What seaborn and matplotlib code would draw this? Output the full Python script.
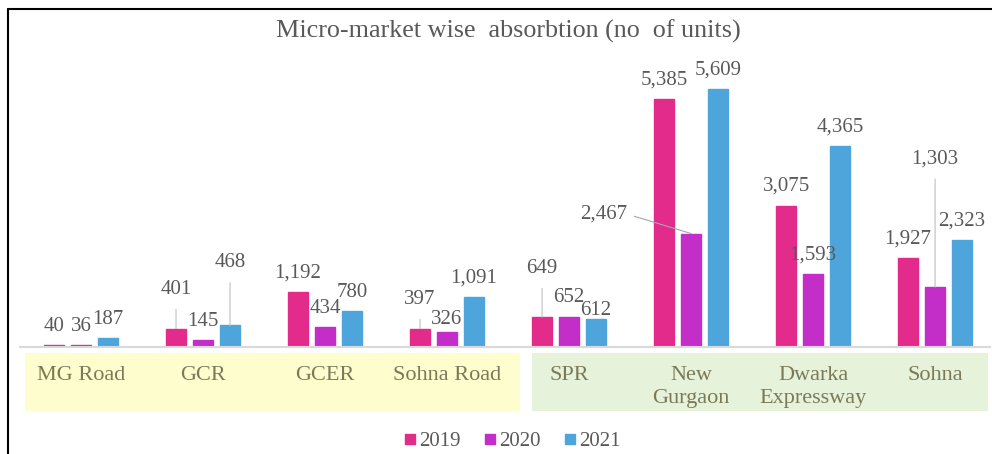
import matplotlib
matplotlib.use("Agg")
import matplotlib.pyplot as plt
import matplotlib.transforms as mtransforms
from matplotlib.patches import Rectangle
from matplotlib.lines import Line2D
import pandas as pd
import seaborn as sns

# data
markets = ["MG Road", "GCR", "GCER", "Sohna Road", "SPR",
           "New\nGurgaon", "Dwarka\nExpressway", "Sohna"]
years = ["2019", "2020", "2021"]
units_2019 = [40, 401, 1192, 397, 649, 5385, 3075, 1927]
units_2020 = [36, 145, 434, 326, 652, 2467, 1593, 1303]
units_2021 = [187, 468, 780, 1091, 612, 5609, 4365, 2323]

colors = {"2019": "#E22B8A", "2020": "#C42EC8", "2021": "#4EA5DC"}
LABEL_GREY = "#595959"
CAT_COLOR = "#7A7A58"
SERIF = ["Liberation Serif", "DejaVu Serif"]

# label offsets in points (dx, dy, leader line) where the label is not just above its bar
label_offsets = {
    ("2019", 1): (0, 28, True),
    ("2021", 1): (0, 45, True),
    ("2019", 3): (0, 21, True),
    ("2020", 3): (0, 9, False),
    ("2019", 4): (0, 35, True),
    ("2021", 4): (0, 6, False),
    ("2020", 5): (-63, 14, True),
    ("2020", 7): (0, 92, True),
}

df = pd.DataFrame({
    "market": markets * 3,
    "year": [y for y in years for _ in markets],
    "units": units_2019 + units_2020 + units_2021,
})

sns.set_style("white")
plt.rcParams["font.family"] = SERIF

fig = plt.figure(figsize=(9.92, 4.54), dpi=100)
ax = fig.add_axes([20 / 992, 107 / 454, 970 / 992, 287 / 454])

sns.barplot(data=df, x="market", y="units", hue="year", order=markets,
            hue_order=years, palette=colors, width=0.664, gap=0.23,
            legend=False, ax=ax, saturation=1)
# thin edge in the bar colour so the tiny MG Road bars still show
for p in ax.patches:
    p.set_edgecolor(p.get_facecolor())
    p.set_linewidth(1.0)

ax.set_xlim(-0.5, 7.45)
ax.set_ylim(0, 6240)
ax.set_yticks([])
ax.set_xlabel("")
ax.set_ylabel("")
for s in ["top", "right", "left"]:
    ax.spines[s].set_visible(False)
ax.spines["bottom"].set_color("#D9D9D9")
ax.spines["bottom"].set_linewidth(1.5)
ax.tick_params(axis="x", length=0, pad=13.5, labelsize=16, labelcolor=CAT_COLOR)
ax.set_xticks(range(len(markets)))
ax.set_xticklabels(markets, va="top", linespacing=1.3)

# category bands
trans = mtransforms.blended_transform_factory(ax.transData, ax.transAxes)
ax.add_patch(Rectangle((-0.46, -0.223), 4.06, 0.202, transform=trans,
                       facecolor="#FEFDCD", edgecolor="none", clip_on=False, zorder=0))
ax.add_patch(Rectangle((3.70, -0.223), 3.73, 0.202, transform=trans,
                       facecolor="#E6F2DA", edgecolor="none", clip_on=False, zorder=0))

# data labels
for year, cont in zip(years, ax.containers):
    for i, bar in enumerate(cont):
        v = bar.get_height()
        x = bar.get_x() + bar.get_width() / 2
        dx, dy, leader = label_offsets.get((year, i), (0, 13.7, False))
        if leader:
            if dx < 0:
                ax.annotate(f"{v:,.0f}", xy=(x, v), xytext=(dx, dy),
                            textcoords="offset points", ha="center", va="center",
                            fontsize=15, color=LABEL_GREY,
                            arrowprops=dict(arrowstyle="-", color="#A6A6A6", lw=0.8,
                                            relpos=(1, 0.5), shrinkA=3, shrinkB=0))
            else:
                ax.annotate(f"{v:,.0f}", xy=(x, v), xytext=(dx, dy),
                            textcoords="offset points", ha="center", va="center",
                            fontsize=15, color=LABEL_GREY,
                            arrowprops=dict(arrowstyle="-", color="#BFBFBF", lw=0.8,
                                            relpos=(0.5, 0), shrinkA=5, shrinkB=0))
        else:
            ax.annotate(f"{v:,.0f}", xy=(x, v), xytext=(dx, dy),
                        textcoords="offset points", ha="center", va="center",
                        fontsize=15, color=LABEL_GREY)

fig.text(508 / 992, 1 - 31 / 454, "Micro-market wise  absorbtion (no  of units)",
         ha="center", va="center", fontsize=18.8, color=LABEL_GREY)

handles = [Line2D([], [], marker="s", linestyle="none", markersize=7,
                  markerfacecolor=colors[y], markeredgecolor=colors[y]) for y in years]
fig.legend(handles, years, loc="center", bbox_to_anchor=(511 / 992, 1 - 441 / 454),
           ncol=3, frameon=False, fontsize=15, labelcolor=LABEL_GREY,
           handletextpad=0.05, columnspacing=1.0, handlelength=0.8)

# outer frame
fig.add_artist(Line2D([8 / 992, 1.0], [1 - 9 / 454, 1 - 9 / 454],
                      transform=fig.transFigure, color="black", lw=1.5))
fig.add_artist(Line2D([8 / 992, 8 / 992], [0, 1 - 9 / 454],
                      transform=fig.transFigure, color="black", lw=1.5))

fig.savefig("out.png", dpi=100)
